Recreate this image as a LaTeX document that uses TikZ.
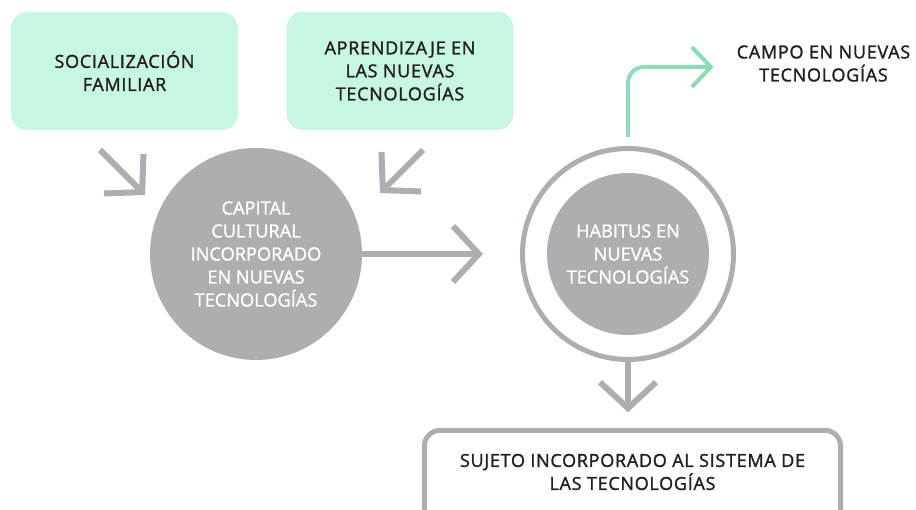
\documentclass[tikz,border=0pt]{standalone}
\usepackage{fontspec}
\setmainfont{Open Sans}
\newfontfamily\semifont{Open Sans}[FakeBold=1.5, LetterSpace=4]
\newfontfamily\discfont{Open Sans}[FakeBold=1.2]
\usetikzlibrary{arrows.meta}
\definecolor{mintfill}{HTML}{C7F7E0}
\definecolor{mintline}{HTML}{8EDCB6}
\definecolor{greyshape}{HTML}{AEADB2}
\definecolor{darktext}{HTML}{231F20}
\tikzset{
	darkfont/.style={font=\semifont\fontsize{18}{23}\selectfont, align=center, text=darktext},
	lightfont/.style={font=\discfont\fontsize{18.2}{23}\selectfont, align=center, text=white},
	mintbox/.style={darkfont, fill=mintfill, rounded corners=16pt, minimum width=227pt, minimum height=118pt},
	greydisc/.style={lightfont, circle, fill=greyshape, inner sep=0pt},
	ring/.style={circle, draw=greyshape, line width=5pt, inner sep=0pt, minimum size=211pt},
	outlinebox/.style={darkfont, minimum width=416pt, minimum height=83pt},
	outlineframe/.style={draw=greyshape, line width=5pt, rounded corners=16pt},
	greyarrow/.style={draw=greyshape, line width=6pt, -{Straight Barb[length=26pt, width=56pt]}},
	mintarrow/.style={draw=mintline, line width=4pt, -{Straight Barb[length=19pt, width=40pt]}}
}
\begin{document}
\begin{tikzpicture}[x=1pt, y=1pt]
		\useasboundingbox (0, 0) rectangle (916, 510);
		% boxes on top
		\node[mintbox] (socializacion) at (124.5, 439) {SOCIALIZACIÓN\\FAMILIAR};
		\node[mintbox] (aprendizaje) at (400, 439) {APRENDIZAJE EN\\LAS NUEVAS\\TECNOLOGÍAS};
		% the two circles
		\node[greydisc, minimum size=212pt] (capital) at (256, 256) {CAPITAL\\CULTURAL\\INCORPORADO\\EN NUEVAS\\TECNOLOGÍAS};
		\node[greydisc, minimum size=162pt] (habitus) at (628, 256) {HABITUS EN\\NUEVAS\\TECNOLOGÍAS};
		\node[ring] (habitusring) at (628, 256) {};
		% what comes out of the habitus
		\node[darkfont, inner sep=0pt] (campo) at (823.5, 446.5) {CAMPO EN NUEVAS\\TECNOLOGÍAS};
		\node[outlinebox] (sujeto) at (632.5, 38) {SUJETO INCORPORADO AL SISTEMA DE\\LAS TECNOLOGÍAS};
		% frame of the bottom box, open below the page edge
		\draw[outlineframe] ([yshift=-40pt]sujeto.south west) |- (sujeto.north east) -- ([yshift=-40pt]sujeto.south east);
		% arrows into the first circle
		\coordinate (socialstart) at (100, 360);
		\coordinate (socialend) at (145, 315);
		\coordinate (aprendstart) at (423, 360);
		\coordinate (aprendend) at (380, 317);
		\draw[greyarrow] (socialstart) -- (socialend);
		\draw[greyarrow] (aprendstart) -- (aprendend);
		% from capital to habitus
		\draw[greyarrow, shorten >=37pt] (capital) -- (habitusring);
		% out of the habitus
		\draw[greyarrow, shorten >=18pt] (habitusring.south) -- (habitusring.south |- sujeto.north);
		\draw[mintarrow, rounded corners=16pt, shorten <=9pt, shorten >=23pt] (habitusring.north) |- ([yshift=-3.5pt]campo.west);
	\end{tikzpicture}
\end{document}
